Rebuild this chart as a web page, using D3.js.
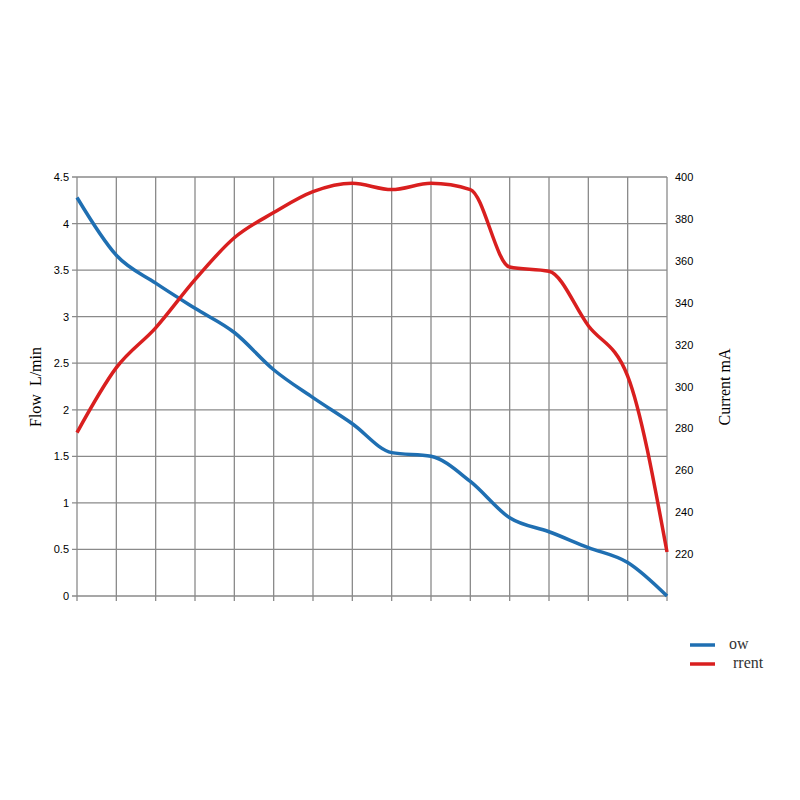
<!DOCTYPE html>
<meta charset=utf-8>
<script src="https://cdn.jsdelivr.net/npm/d3@7/dist/d3.min.js"></script>
<body style="margin:0;background:#fff">
<svg id=chart width=800 height=800></svg>
</body>
<script>
const steps = d3.range(16);
const flow = [4.28, 3.66, 3.36, 3.09, 2.83, 2.43, 2.13, 1.85, 1.54, 1.50, 1.23, 0.84, 0.69, 0.52, 0.36, 0];
const current = [278, 309, 328, 351, 371, 383, 393, 397, 394, 397, 394, 357, 355, 329, 305, 221];
const flowTicks = d3.range(0, 4.51, 0.5);
const currentTicks = d3.range(200, 401, 20);

const svg = d3.select("#chart");
const x = d3.scaleLinear().domain([0, 15]).range([77, 667]);
const yF = d3.scaleLinear().domain([0, 4.5]).range([596, 177]);
const yC = d3.scaleLinear().domain([200, 400]).range([596, 177]);

// grid
svg.append("g").attr("stroke", "#8a8a8a").attr("stroke-width", 1.3)
	.selectAll("line").data(steps).join("line")
	.attr("x1", d => x(d)).attr("x2", d => x(d)).attr("y1", 177).attr("y2", 601);
svg.append("g").attr("stroke", "#8a8a8a").attr("stroke-width", 1.3)
	.selectAll("line").data(flowTicks).join("line")
	.attr("x1", 72).attr("x2", 667).attr("y1", d => yF(d)).attr("y2", d => yF(d));

// axes
svg.append("g").attr("transform", "translate(77,0)")
	.call(d3.axisLeft(yF).tickValues(flowTicks).tickFormat(d3.format("")).tickSize(0).tickPadding(8))
	.attr("font-size", "11px").attr("font-family", "Arial, sans-serif")
	.call(g => g.select(".domain").remove());
svg.append("g").attr("transform", "translate(667,0)")
	.call(d3.axisRight(yC).tickValues(currentTicks.slice(1)).tickSize(0).tickPadding(8))
	.attr("font-size", "11px").attr("font-family", "Arial, sans-serif")
	.call(g => g.select(".domain").remove());

svg.append("text").attr("transform", "translate(41,387) rotate(-90)").attr("text-anchor", "middle")
	.attr("font", "bold 11px Arial, sans-serif").attr("xml:space", "preserve").text("Flow  L/min");
svg.append("text").attr("transform", "translate(730,387) rotate(-90)").attr("text-anchor", "middle")
	.attr("font", "bold 11px Arial, sans-serif").text("Current mA");

// lines
const lineF = d3.line().x((d, i) => x(i)).y(d => yF(d)).curve(d3.curveMonotoneX);
const lineC = d3.line().x((d, i) => x(i)).y(d => yC(d)).curve(d3.curveMonotoneX);
svg.append("path").datum(flow).attr("d", lineF).attr("fill", "none").attr("stroke", "#1f6fb2").attr("stroke-width", 3.5);
svg.append("path").datum(current).attr("d", lineC).attr("fill", "none").attr("stroke", "#d91f1f").attr("stroke-width", 3.5);

// legend
const legend = [["ow", "#1f6fb2", 645], ["rrent", "#d91f1f", 664]];
const lg = svg.append("g").attr("font", "11px Arial, sans-serif");
legend.forEach(([t, c, y]) => {
	lg.append("line").attr("x1", 690).attr("x2", 715).attr("y1", y).attr("y2", y).attr("stroke", c).attr("stroke-width", 3.5);
	lg.append("text").attr("x", t === "ow" ? 729 : 733).attr("y", y + 4).attr("fill", "#333").text(t);
});
</script>
